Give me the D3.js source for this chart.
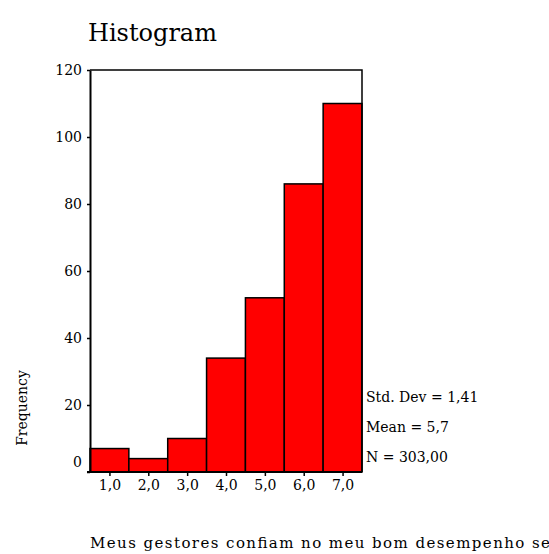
<!DOCTYPE html>
<html><head><meta charset="utf-8">
<script src="https://cdn.jsdelivr.net/npm/d3@7"></script>
<style>body{margin:0;background:#fff}svg{display:block}text{font-family:"DejaVu Serif",serif;fill:#000}</style>
</head><body>
<script>
const binCenters = [1, 2, 3, 4, 5, 6, 7];
const counts = [7, 4, 10, 34, 52, 86, 110];
const xTickLabels = ["1,0", "2,0", "3,0", "4,0", "5,0", "6,0", "7,0"];
const yTicks = [0, 20, 40, 60, 80, 100, 120];
const statsLines = ["Std. Dev = 1,41", "Mean = 5,7", "N = 303,00"];
const title = "Histogram";
const xLabel = "Meus gestores confiam no meu bom desempenho se";
const yLabel = "Frequency";

const W = 549, H = 554;
const m = {left: 90, right: 187, top: 70, bottom: 82};
const svg = d3.select("body").append("svg").attr("width", W).attr("height", H);

const x = d3.scaleLinear().domain([0.5, 7.5]).range([m.left, W - m.right]);
const y = d3.scaleLinear().domain([0, 120]).range([H - m.bottom, m.top]);

svg.append("text").attr("x", 88).attr("y", 41).attr("font-size", 24).text(title);

// bars
svg.append("g").selectAll("rect").data(counts).join("rect")
  .attr("x", (d, i) => x(binCenters[i] - 0.5))
  .attr("width", (d, i) => x(binCenters[i] + 0.5) - x(binCenters[i] - 0.5))
  .attr("y", d => y(d))
  .attr("height", d => y(0) - y(d))
  .attr("fill", "#ff0000").attr("stroke", "#000").attr("stroke-width", 1.5);

// frame top and right
svg.append("path")
  .attr("d", `M${x(0.5)},${y(120)}H${x(7.5)}V${y(0)}`)
  .attr("fill", "none").attr("stroke", "#000").attr("stroke-width", 1.5);

// y axis
const yAxis = svg.append("g").attr("transform", `translate(${x(0.5)},0)`)
  .call(d3.axisLeft(y).tickValues(yTicks).tickSize(3).tickPadding(5).tickSizeOuter(0));
yAxis.select(".domain").attr("stroke-width", 2);
yAxis.selectAll(".tick line").attr("stroke-width", 1.5);
yAxis.selectAll("text").attr("font-size", 14).style("font-family", "DejaVu Serif")
  .attr("dy", d => d === 0 ? "-0.4em" : "0.32em");

// x axis
const xAxis = svg.append("g").attr("transform", `translate(0,${y(0)})`)
  .call(d3.axisBottom(x).tickValues(binCenters).tickFormat((d, i) => xTickLabels[i]).tickSize(4).tickPadding(4).tickSizeOuter(0));
xAxis.select(".domain").attr("stroke-width", 2).attr("d", `M${x(0.5) - 3},0H${x(7.5)}`);
xAxis.selectAll(".tick line").attr("stroke-width", 1.5);
xAxis.selectAll("text").attr("font-size", 14).style("font-family", "DejaVu Serif");

// stats
svg.append("g").selectAll("text").data(statsLines).join("text")
  .attr("x", 366).attr("y", (d, i) => 402 + i * 30)
  .attr("font-size", 14).text(d => d);

// axis labels
svg.append("text").attr("transform", "translate(27,408) rotate(-90)")
  .attr("text-anchor", "middle").attr("font-size", 14).text(yLabel);
svg.append("text").attr("x", 90).attr("y", 548).attr("font-size", 15)
  .attr("textLength", 460).attr("lengthAdjust", "spacing").text(xLabel);
</script>
</body></html>
